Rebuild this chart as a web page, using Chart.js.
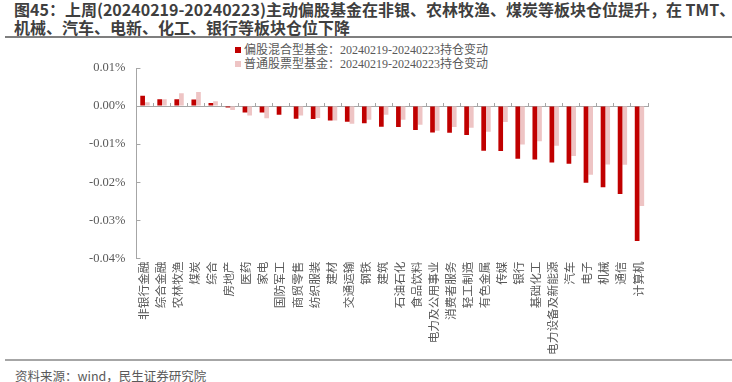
<!DOCTYPE html>
<html>
<head>
<meta charset="utf-8">
<script src="https://cdn.jsdelivr.net/npm/chart.js@4/dist/chart.umd.min.js"></script>
<style>
  html, body { margin: 0; padding: 0; background: #fff; }
  body { width: 732px; height: 382px; position: relative; overflow: hidden; }
  #title {
    position: absolute; left: 14px; top: 0;
    font: bold 16px "Noto Sans CJK SC", sans-serif; line-height: 18px;
    color: #3f3f3f; white-space: nowrap;
  }
  #rule-top { position: absolute; left: 5px; right: 0; top: 36px; height: 2px; background: #7f7f7f; }
  #legend {
    position: absolute; left: 235px; top: 44px;
    font: 12px "Liberation Serif", "Noto Sans CJK SC", serif; color: #595959;
  }
  #legend div { height: 13.5px; line-height: 13.5px; white-space: nowrap; }
  #legend span { display: inline-block; width: 6px; height: 6px; margin-right: 3px; vertical-align: 1px; }
  #wrap { position: absolute; left: 0; top: 40px; width: 732px; height: 320px; }
  #rule-bottom { position: absolute; left: 5px; right: 0; top: 359px; height: 2px; background: #a6a6a6; }
  #source {
    position: absolute; left: 15px; top: 368px;
    font: 12.5px "Noto Sans CJK SC", sans-serif; line-height: 16px; color: #595959; white-space: nowrap;
  }
</style>
</head>
<body>
<div id="title">图45：上周(20240219-20240223)主动偏股基金在非银、农林牧渔、煤炭等板块仓位提升，在 TMT、<br>机械、汽车、电新、化工、银行等板块仓位下降</div>
<div id="rule-top"></div>
<div id="legend"></div>
<div id="wrap"><canvas id="chart"></canvas></div>
<div id="rule-bottom"></div>
<div id="source">资料来源：wind，民生证券研究院</div>
<script>
// 行业分类
const categories = ['非银行金融','综合金融','农林牧渔','煤炭','综合','房地产','医药','家电','国防军工','商贸零售',
  '纺织服装','建材','交通运输','钢铁','建筑','石油石化','食品饮料','电力及公用事业','消费者服务','轻工制造',
  '有色金属','传媒','银行','基础化工','电力设备及新能源','汽车','电子','机械','通信','计算机'];

// 持仓变动，单位 %
const mixedFundChange = [0.0027, 0.0018, 0.0018, 0.0017, 0.0008, -0.0004, -0.0017, -0.0017, -0.0023, -0.0033,
  -0.0034, -0.0038, -0.0041, -0.0045, -0.0054, -0.0055, -0.0063, -0.0069, -0.0070, -0.0076,
  -0.0117, -0.0118, -0.0138, -0.0140, -0.0148, -0.0151, -0.0201, -0.0213, -0.0231, -0.0354];
const stockFundChange = [0.0010, 0.0018, 0.0034, 0.0037, 0.0013, -0.0010, -0.0025, -0.0032, -0.0001, -0.0025,
  -0.0031, -0.0038, -0.0046, -0.0036, -0.0023, -0.0036, -0.0049, -0.0065, -0.0055, -0.0057,
  -0.0067, -0.0042, -0.0101, -0.0092, -0.0104, -0.0131, -0.0180, -0.0153, -0.0154, -0.0262];

const seriesNames = ['偏股混合型基金：20240219-20240223持仓变动', '普通股票型基金：20240219-20240223持仓变动'];
const seriesColors = ['#C00000', '#EEC4C4'];

const yMin = -0.04, yMax = 0.01, yStep = 0.01;

const axisGray = '#a6a6a6';
const textGray = '#595959';
const serif = '"Liberation Serif", "Noto Sans CJK SC", serif';

document.getElementById('legend').innerHTML = seriesNames
  .map((n, i) => `<div><span style="background:${seriesColors[i]}"></span>${n}</div>`).join('');

new Chart(document.getElementById('chart'), {
  type: 'bar',
  data: {
    labels: categories,
    datasets: [mixedFundChange, stockFundChange].map((d, i) => ({
      label: seriesNames[i],
      data: d,
      backgroundColor: seriesColors[i],
      categoryPercentage: 0.55,
      barPercentage: 1.0,
      xAxisID: 'x',
    })),
  },
  options: {
    responsive: true,
    maintainAspectRatio: false,
    animation: false,
    layout: { padding: { left: 74, right: 84, top: 28, bottom: 2 } },
    plugins: { legend: { display: false }, tooltip: { enabled: false } },
    scales: {
      x: {
        position: 'bottom',
        border: { display: false },
        grid: { display: false, drawTicks: false },
        ticks: {
          autoSkip: false, minRotation: 90, maxRotation: 90, padding: 3,
          color: textGray, font: { family: serif, size: 11.7 },
        },
      },
      x2: {
        type: 'category',
        position: { y: 0 },
        offset: true,
        border: { display: true, color: axisGray, width: 1 },
        grid: { offset: true, drawOnChartArea: false, tickLength: -4, color: axisGray },
        ticks: { display: false },
      },
      y: {
        min: yMin, max: yMax,
        border: { display: true, color: axisGray, width: 1 },
        grid: { drawOnChartArea: false, tickLength: -4, color: axisGray },
        ticks: {
          stepSize: yStep, padding: 15, color: textGray,
          font: { family: serif, size: 12.5 },
          callback: v => (Math.abs(v) < 1e-9 ? 0 : v).toFixed(2) + '%',
        },
      },
    },
  },
});
</script>
</body>
</html>
